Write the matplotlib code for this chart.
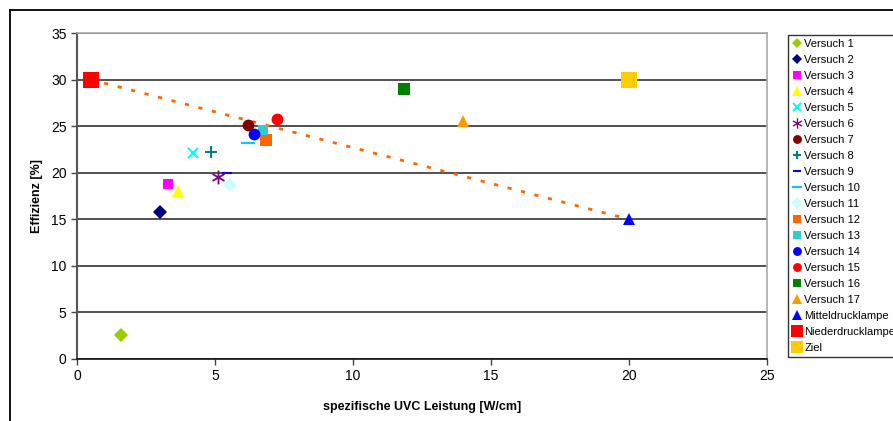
import matplotlib.pyplot as plt
from matplotlib.lines import Line2D

plt.rcParams['font.family'] = ['Liberation Sans', 'DejaVu Sans']

# Messpunkte: spezifische UVC Leistung [W/cm] und Effizienz [%]
labels = ["Versuch 1", "Versuch 2", "Versuch 3", "Versuch 4", "Versuch 5",
          "Versuch 6", "Versuch 7", "Versuch 8", "Versuch 9", "Versuch 10",
          "Versuch 11", "Versuch 12", "Versuch 13", "Versuch 14", "Versuch 15",
          "Versuch 16", "Versuch 17", "Mitteldrucklampe", "Niederdrucklampe", "Ziel"]
leistung = [1.6, 3.0, 3.3, 3.65, 4.2, 5.1, 6.2, 4.85, 5.45, 6.2,
            5.55, 6.85, 6.75, 6.4, 7.25, 11.85, 14.0, 20.0, 0.5, 20.0]
effizienz = [2.6, 15.8, 18.8, 18.0, 22.1, 19.5, 25.1, 22.2, 20.0, 23.2,
             18.7, 23.5, 24.6, 24.2, 25.8, 29.0, 25.6, 15.0, 30.0, 30.0]

# Trendlinie zwischen Niederdruck- und Mitteldrucklampe
trend_x = [0.5, 20.0]
trend_y = [30.0, 15.0]

styles = [
    ('D', '#99CC00', 7), ('D', '#000080', 7), ('s', '#FF00FF', 7.5),
    ('^', '#FFFF00', 9), ('x', '#00FFFF', 7), ('$\\ast$', '#800080', 10),
    ('o', '#800000', 8.5), ('+', '#008080', 8), ('_', '#0000FF', 7),
    ('_', '#00CCFF', 10), ('D', '#CCFFFF', 7.5), ('s', '#FF6600', 8.5),
    ('s', '#33CCCC', 7.5), ('o', '#0000FF', 8.5), ('o', '#FF0000', 8.5),
    ('s', '#008000', 8), ('^', '#FF9900', 9), ('^', '#0000FF', 9),
    ('s', '#FF0000', 11), ('s', '#FFCC00', 11),
]

fig = plt.figure(figsize=(8.93, 4.21), dpi=100)
ax = fig.add_axes([0.0862, 0.1473, 0.7728, 0.7743])

ax.plot(trend_x, trend_y, color='#FF6600', lw=2, linestyle=(0, (1.5, 3.5)), zorder=2)

for lab, x, y, (m, c, ms) in zip(labels, leistung, effizienz, styles):
    line_marker = m in ('x', '+', '_')
    ax.plot([x], [y], linestyle='none', marker=m, color=c, markersize=ms,
            markeredgewidth=1.5 if line_marker else 0,
            label=lab, zorder=3)

ax.set_xlim(0, 25)
ax.set_ylim(0, 35)
ax.set_xticks(range(0, 26, 5))
ax.set_yticks(range(0, 36, 5))
ax.yaxis.grid(True, color='#333333', lw=1.2)
ax.set_axisbelow(True)
ax.tick_params(direction='out', length=4, width=1, color='#444444', labelsize=10)

for side in ('top', 'right'):
    ax.spines[side].set_color('#AAAAAA')
    ax.spines[side].set_linewidth(1.2)
ax.spines['left'].set_color('#555555')
ax.spines['left'].set_linewidth(1.5)
ax.spines['bottom'].set_color('#111111')
ax.spines['bottom'].set_linewidth(1.2)

ax.set_xlabel("spezifische UVC Leistung [W/cm]", fontsize=9, fontweight='bold', labelpad=13)
ax.set_ylabel("Effizienz [%]", fontsize=9, fontweight='bold', labelpad=6)

leg = fig.legend(loc='upper left', bbox_to_anchor=(0.882, 0.918), fontsize=8,
                 frameon=True, fancybox=False, edgecolor='black', labelspacing=0.54,
                 handlelength=0.8, handletextpad=0.3, borderpad=0.4,
                 borderaxespad=0, markerscale=0.75)
leg.get_frame().set_linewidth(1.0)

# Rahmen um das gesamte Diagramm
fig.add_artist(Line2D([10 / 893, 10 / 893], [0, 1 - 10 / 421], color='black', lw=1.3,
                      transform=fig.transFigure))
fig.add_artist(Line2D([10 / 893, 1], [1 - 10 / 421, 1 - 10 / 421], color='black', lw=1.3,
                      transform=fig.transFigure))

fig.savefig("out.png", dpi=100)
